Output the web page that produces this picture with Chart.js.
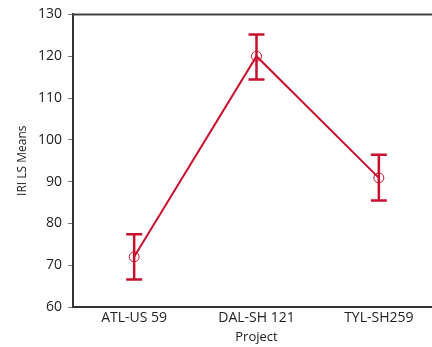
<!DOCTYPE html>
<html>
<head>
<meta charset="utf-8">
<script src="https://cdn.jsdelivr.net/npm/chart.js@4"></script>
<style>
  html, body { margin: 0; padding: 0; background: #fff; overflow: hidden; }
  #wrap { width: 446px; height: 347px; }
</style>
</head>
<body>
<div id="wrap"><canvas id="myChart" width="446" height="347"></canvas></div>
<script>
// values
const projects = ['ATL-US 59', 'DAL-SH 121', 'TYL-SH259'];
const lsMeans = [72, 120, 90.9];
const lowerCI = [66.6, 114.4, 85.5];
const upperCI = [77.4, 125.2, 96.4];
const yTicks = [60, 70, 80, 90, 100, 110, 120, 130];

const red = '#c8102e';

// draws the error bars and the top frame line
const errorBars = {
    id: 'errorBars',
    afterDatasetsDraw(chart) {
        const ctx = chart.ctx;
        const x = chart.scales.x;
        const y = chart.scales.y;
        ctx.save();
        ctx.strokeStyle = red;
        ctx.lineWidth = 2.5;
        for (let i = 0; i < projects.length; i++) {
            let px = x.getPixelForValue(i);
            let top = y.getPixelForValue(upperCI[i]);
            let bot = y.getPixelForValue(lowerCI[i]);
            ctx.beginPath();
            ctx.moveTo(px, top); ctx.lineTo(px, bot);
            ctx.moveTo(px - 8, top); ctx.lineTo(px + 8, top);
            ctx.moveTo(px - 8, bot); ctx.lineTo(px + 8, bot);
            ctx.stroke();
        }
        // top border of the frame
        let a = chart.chartArea;
        ctx.strokeStyle = '#444';
        ctx.lineWidth = 2;
        ctx.beginPath();
        ctx.moveTo(a.left - 1, a.top);
        ctx.lineTo(a.right, a.top);
        ctx.stroke();
        ctx.restore();
    }
};

var ctx = document.getElementById('myChart').getContext('2d');
var myChart = new Chart(ctx, {
    type: 'line',
    data: {
        labels: projects,
        datasets: [{
            data: lsMeans,
            borderColor: red,
            borderWidth: 2,
            pointStyle: 'circle',
            pointRadius: 5,
            pointBorderWidth: 1,
            pointBorderColor: red,
            pointBackgroundColor: 'rgba(0,0,0,0)',
            fill: false,
            tension: 0
        }]
    },
    options: {
        responsive: false,
        animation: false,
        layout: { padding: { top: 13, right: 3, left: 15, bottom: 2 } },
        plugins: {
            legend: { display: false },
            tooltip: { enabled: false }
        },
        scales: {
            x: {
                offset: true,
                afterFit: axis => { axis.height = 38; },
                grid: { display: false, drawTicks: false },
                border: { color: '#333', width: 2 },
                ticks: {
                    color: '#222',
                    padding: 3,
                    font: { family: 'Open Sans', size: 14 }
                },
                title: {
                    display: true,
                    text: 'Project',
                    color: '#222',
                    padding: 0,
                    font: { family: 'Open Sans', size: 13 }
                }
            },
            y: {
                min: 60,
                max: 130,
                afterFit: axis => { axis.width = 58; },
                afterBuildTicks: axis => { axis.ticks = yTicks.map(v => ({ value: v })); },
                grid: {
                    drawOnChartArea: false,
                    drawTicks: true,
                    tickLength: 5,
                    color: '#777'
                },
                border: { color: '#333', width: 2 },
                ticks: {
                    color: '#222',
                    padding: 6,
                    font: { family: 'Open Sans', size: 14 }
                },
                title: {
                    display: true,
                    text: 'IRI LS Means',
                    color: '#222',
                    padding: 0,
                    font: { family: 'Open Sans', size: 12 }
                }
            }
        }
    },
    plugins: [errorBars]
});
</script>
</body>
</html>
